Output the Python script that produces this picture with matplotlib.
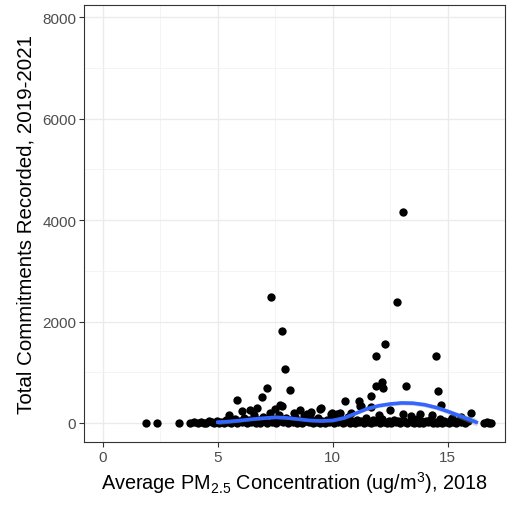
import numpy as np
import matplotlib.pyplot as plt

plt.rcParams['font.family'] = ['Liberation Sans', 'DejaVu Sans']
plt.rcParams['mathtext.fontset'] = 'custom'
plt.rcParams['mathtext.rm'] = 'Liberation Sans'
plt.rcParams['mathtext.it'] = 'Liberation Sans'
plt.rcParams['mathtext.default'] = 'regular'

# counties with few commitments (bottom band)
pm_low = [1.87, 2.33, 3.32, 3.78, 3.98, 4.12, 4.25, 4.38, 4.5, 4.62, 4.75, 4.85, 4.95,
          5.05, 5.15, 5.25, 5.35, 5.45, 5.55, 5.65, 5.75, 5.85, 5.95,
          6.05, 6.15, 6.25, 6.35, 6.45, 6.55, 6.65, 6.75, 6.85, 6.95,
          7.05, 7.15, 7.25, 7.35, 7.45, 7.55, 7.65, 7.75, 7.85, 7.95,
          8.05, 8.15, 8.25, 8.35, 8.45, 8.55, 8.65, 8.75, 8.85, 8.95,
          9.05, 9.15, 9.25, 9.35, 9.45, 9.55, 9.65, 9.75, 9.85, 9.95,
          10.05, 10.15, 10.25, 10.35, 10.45, 10.55, 10.65, 10.75, 10.85, 10.95,
          11.05, 11.15, 11.25, 11.35, 11.45, 11.55, 11.65, 11.75, 11.85, 11.95,
          12.05, 12.15, 12.25, 12.35, 12.45, 12.55, 12.65, 12.75, 12.85, 12.95,
          13.05, 13.15, 13.25, 13.35, 13.45, 13.55, 13.65, 13.75, 13.85, 13.95,
          14.05, 14.15, 14.25, 14.35, 14.45, 14.55, 14.65, 14.75, 14.85, 14.95,
          15.05, 15.15, 15.25, 15.35, 15.45,
          15.6, 15.75, 15.9, 16.6, 16.7, 16.8, 16.9]
commit_low = [0, 0, 0, 0, 10, 0, 20, 5, 0, 30, 10, 0, 40,
              0, 20, 5, 60, 10, 0, 30, 80, 5, 40,
              10, 100, 0, 50, 20, 150, 5, 60, 0, 120,
              30, 0, 200, 20, 80, 0, 150, 40, 10, 90,
              0, 60, 20, 110, 5, 40, 0, 130, 30, 10,
              70, 0, 20, 100, 5, 40, 0, 60, 10, 30,
              0, 50, 10, 80, 0, 20, 120, 5, 40, 0,
              60, 10, 30, 0, 90, 20, 0, 50, 10, 40,
              0, 70, 20, 5, 40, 0, 60, 10, 30, 0,
              50, 10, 0, 40, 20, 0, 70, 5, 30, 0,
              40, 10, 60, 0, 20, 5, 80, 0, 30, 10,
              0, 50, 20, 0, 40,
              10, 0, 30, 0, 20, 5, 0]

# counties with more commitments
pm_high = [5.83, 6.06, 6.93, 7.12, 7.33, 7.7, 7.77, 7.8, 7.93, 8.16, 8.57, 8.86, 9.0,
           9.06, 9.43, 9.51, 9.94, 9.96, 10.2, 10.54, 11.13, 11.2, 11.67, 11.68, 11.88,
           11.88, 12.0, 12.14, 12.2, 12.27, 12.8, 13.04, 13.06, 13.19, 13.42, 14.48,
           14.6, 14.71, 15.2, 16.03, 6.4, 6.7, 7.5, 5.5, 8.3, 10.8, 12.5, 13.8, 14.3,
           15.6, 11.25, 10.3]
commit_high = [447, 243, 519, 683, 2489, 355, 1807, 330, 1070, 656, 262, 177, 177,
               220, 276, 296, 177, 191, 177, 427, 427, 340, 532, 309, 1327,
               723, 150, 802, 690, 1557, 2390, 4163, 177, 729, 132, 1327,
               637, 355, 100, 191, 250, 300, 280, 150, 200, 200, 250, 180, 150,
               120, 340, 200]

# loess fit and standard error band
smooth_x = [5, 5.5, 6, 6.5, 7, 7.5, 8, 8.5, 9, 9.5, 10, 10.5, 11, 11.5, 12, 12.5,
            13, 13.5, 14, 14.5, 15, 15.5, 16, 16.25]
smooth_y = [15, 30, 50, 75, 95, 112, 100, 75, 50, 40, 50, 100, 190, 280, 340, 375,
            395, 390, 360, 305, 230, 145, 60, 15]
smooth_se = [45, 35, 30, 28, 28, 28, 28, 28, 28, 28, 28, 30, 32, 34, 36, 38,
             40, 40, 42, 44, 48, 55, 65, 75]

fig = plt.figure(figsize=(5.07, 5.06), dpi=100)
ax = fig.add_axes([84 / 507, 1 - 443 / 506, 421 / 507, 437 / 506])

lo = np.array(smooth_y) - np.array(smooth_se)
hi = np.array(smooth_y) + np.array(smooth_se)
ax.scatter(pm_low, commit_low, s=36, color='black', linewidths=0, zorder=3)
ax.scatter(pm_high, commit_high, s=36, color='black', linewidths=0, zorder=3)
ax.fill_between(smooth_x, lo, hi, color='#999999', alpha=0.4, linewidth=0, zorder=4)
ax.plot(smooth_x, smooth_y, color='#3366FF', lw=2.6, zorder=5)

ax.set_xlim(-0.83, 17.5)
ax.set_ylim(-375, 8240)
ax.set_xticks([0, 5, 10, 15])
ax.set_yticks([0, 2000, 4000, 6000, 8000])
ax.set_xticks([2.5, 7.5, 12.5], minor=True)
ax.set_yticks([1000, 3000, 5000, 7000], minor=True)
ax.grid(which='major', color='#EBEBEB', lw=1.0, zorder=0)
ax.grid(which='minor', color='#F2F2F2', lw=0.6, zorder=0)
ax.set_axisbelow(True)
ax.tick_params(which='major', length=3.5, width=0.8, color='#333333',
               labelsize=11, labelcolor='#4D4D4D', pad=2)
ax.tick_params(which='minor', length=0)
for sp in ax.spines.values():
    sp.set_color('#333333')
    sp.set_linewidth(0.8)

ax.set_xlabel(r'Average PM$_{2.5}$ Concentration (ug/m$^3$), 2018', fontsize=14.3, labelpad=4)
ax.set_ylabel('Total Commitments Recorded, 2019-2021', fontsize=14.8, labelpad=5)

fig.savefig('out.png', dpi=100)
